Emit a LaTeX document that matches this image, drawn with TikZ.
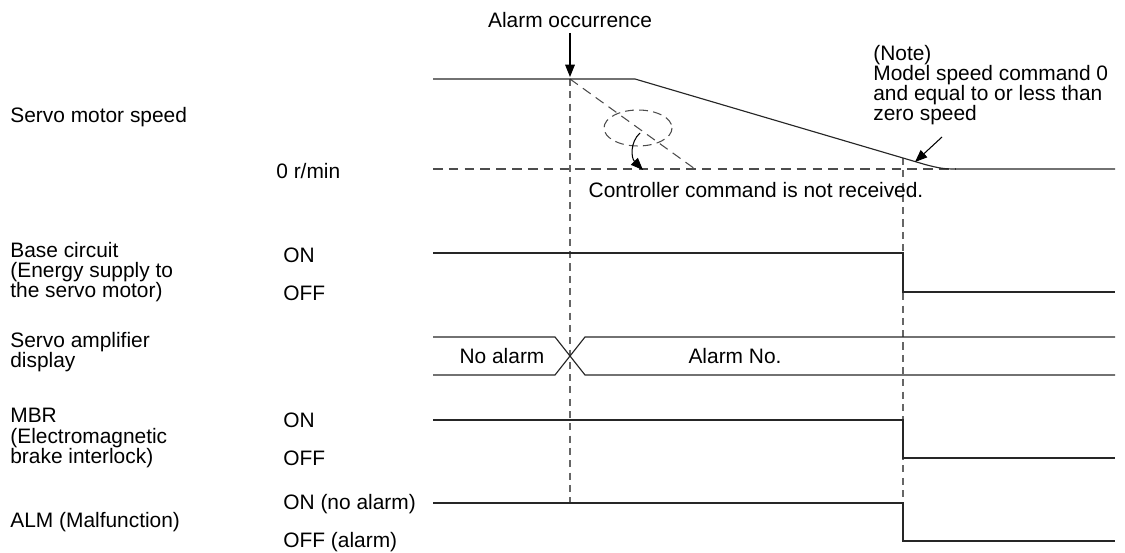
\documentclass[tikz,border=0pt]{standalone}
\usepackage{fontspec}
\setmainfont{Liberation Sans}
\usetikzlibrary{arrows.meta}

\begin{document}
\begin{tikzpicture}[x=0.02cm,y=-0.02cm,line join=miter,
    every node/.style={inner sep=0pt,font=\fontsize{11.9}{11.4}\selectfont},
    sig/.style={line width=0.65pt,draw=black!85},
    guide/.style={line width=0.6pt,draw=black!60,dash pattern=on 4pt off 3pt},
    zeroline/.style={line width=0.6pt,draw=black!70,dash pattern=on 5.5pt off 3.5pt},
    lbl/.style={anchor=west,align=left},
    tip/.style={-{Triangle[length=7pt,width=5.5pt]}}]
  \useasboundingbox (0,0) rectangle (1125,553);

  % signal names and levels
  \node[lbl] (speedlbl) at (10,117) {Servo motor speed};
  \node[lbl] (baselbl) at (10,272) {Base circuit\\(Energy supply to\\the servo motor)};
  \node[lbl] (displbl) at (10,352) {Servo amplifier\\display};
  \node[lbl] (mbrlbl) at (10,438) {MBR\\(Electromagnetic\\brake interlock)};
  \node[lbl] (almlbl) at (10,522) {ALM (Malfunction)};
  \node[lbl] (zerolbl) at (276,171) {0 r/min};
  \node[lbl] (baseon) at (283,255) {ON};
  \node[lbl] (baseoff) at (283,293) {OFF};
  \node[lbl] (mbron) at (283,420) {ON};
  \node[lbl] (mbroff) at (283,458) {OFF};
  \node[lbl] (almon) at (283,504) {ON (no alarm)};
  \node[lbl] (almoff) at (283,542) {OFF (alarm)};

  % alarm occurrence
  \node (alarmtxt) at (570,20) {Alarm occurrence};
  \coordinate (a0) at (570,33);
  \coordinate (a1) at (570,77);
  \coordinate (ta) at (570,79);
  \coordinate (tb) at (903,158);
  \draw[line width=0.6pt,tip] (a0) -- (a1);
  \draw[guide] (ta) -- (570,503);
  \draw[guide] (tb) -- (903,503);

  % servo motor speed
  \draw[zeroline] (433,169) -- (955,169);
  \draw[zeroline] (ta) -- (695,169);
  \draw[sig] (433,79) -- (635,79) -- (925,164.5)
    .. controls (940,168.5) and (945,169) .. (955,169) -- (1115,169);
  \draw[line width=0.6pt,draw=black!70,dash pattern=on 5pt off 3pt] (638,128) ellipse [x radius=34,y radius=18];
  \coordinate (c0) at (640,133);
  \coordinate (c1) at (643,170);
  \draw[line width=0.6pt,tip] (c0) .. controls (630,142) and (631,158) .. (c1);
  \node (ctrltxt) at (756,190) {Controller command is not received.};

  % note
  \node[lbl] (notetxt) at (873,85) {(Note)\\Model speed command 0\\and equal to or less than\\zero speed};
  \coordinate (n0) at (942,137);
  \coordinate (n1) at (915,162);
  \draw[line width=0.6pt,tip] (n0) -- (n1);

  % base circuit
  \draw[sig] (433,253) -- (903,253) -- (903,292) -- (1115,292);

  % servo amplifier display
  \draw[sig] (433,337) -- (555,337) -- (585,375) -- (1115,375);
  \draw[sig] (433,375) -- (555,375) -- (585,337) -- (1115,337);
  \node (noalarm) at (502,356) {No alarm};
  \node (alarmno) at (735,356) {Alarm No.};

  % MBR
  \draw[sig] (433,420) -- (903,420) -- (903,458) -- (1115,458);

  % ALM
  \draw[sig] (433,503) -- (903,503) -- (903,541) -- (1115,541);
\end{tikzpicture}
\end{document}
